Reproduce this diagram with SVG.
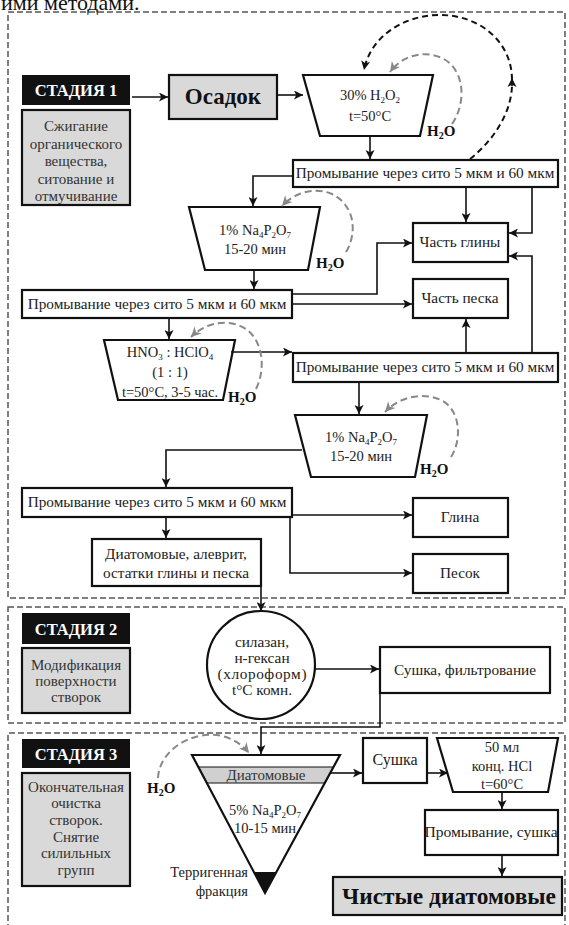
<svg xmlns="http://www.w3.org/2000/svg" width="569" height="925" viewBox="0 0 569 925">
<defs>
<marker id="ah" viewBox="0 0 10 10" refX="10" refY="5" markerWidth="10" markerHeight="9" markerUnits="userSpaceOnUse" orient="auto"><path d="M0,0 L10,5 L0,10 L2.5,5 z" fill="#111"/></marker>
<marker id="ahg" viewBox="0 0 10 10" refX="10" refY="5" markerWidth="11" markerHeight="10" markerUnits="userSpaceOnUse" orient="auto"><path d="M0,0 L10,5 L0,10 L3,5 z" fill="#888"/></marker>
</defs>
<style>
text{font-family:"Liberation Serif","DejaVu Serif",serif;fill:#222;}
.frame{fill:none;stroke:#555;stroke-width:1.5;stroke-dasharray:6 3;}
.box{fill:#fff;stroke:#111;stroke-width:2.2;}
.gbox{fill:#d9d9d9;stroke:#111;stroke-width:2.2;}
.blk{fill:#111;}
.lbl{font-size:16.5px;font-weight:bold;fill:#fff;text-anchor:middle;}
.st{font-size:15px;text-anchor:middle;fill:#333;}
.t{font-size:14.5px;text-anchor:middle;}
.w{font-size:15.3px;text-anchor:middle;}
.h2o{font-size:15px;font-weight:bold;fill:#111;}
.big{font-size:23px;font-weight:bold;text-anchor:middle;fill:#111;}
.c{fill:none;stroke:#111;stroke-width:1.6;marker-end:url(#ah);}
.cn{fill:none;stroke:#111;stroke-width:1.6;}
.dk{fill:none;stroke:#111;stroke-width:2;stroke-dasharray:6 4;}
.dg{fill:none;stroke:#888;stroke-width:2;stroke-dasharray:7 4;marker-end:url(#ahg);}
</style>
<text x="1" y="10" style="font-size:22px;fill:#111">ими методами.</text>
<g id="frames">
<rect class="frame" x="8" y="12" width="557" height="586"/>
<rect class="frame" x="8" y="607" width="557" height="116"/>
<path class="frame" d="M8,930 V733 H565 V930"/>
</g>
<g id="stage1">
<rect class="blk" x="22" y="75" width="108" height="30"/>
<text class="lbl" x="76" y="96">СТАДИЯ 1</text>
<rect class="gbox" x="22" y="110" width="108" height="95"/>
<text class="st" x="76" y="131">Сжигание</text>
<text class="st" x="76" y="149">органического</text>
<text class="st" x="76" y="166">вещества,</text>
<text class="st" x="76" y="184">ситование и</text>
<text class="st" x="76" y="201">отмучивание</text>
</g>
<g id="osadok">
<rect class="gbox" x="169" y="75" width="108" height="44"/>
<text class="big" x="223" y="104">Осадок</text>
</g>
<g id="trap1">
<path class="box" d="M303,75 H433 L420,136 H320 Z"/>
<text class="t" x="370" y="100">30% H<tspan font-size="9" dy="3">2</tspan><tspan dy="-3">O</tspan><tspan font-size="9" dy="3">2</tspan></text>
<text class="t" x="370" y="121">t=50°C</text>
<text class="h2o" x="427" y="136">H<tspan font-size="10" dy="3">2</tspan><tspan dy="-3">O</tspan></text>
</g>
<g id="wash1">
<rect class="box" x="293" y="160" width="265" height="27"/>
<text class="w" x="425" y="178">Промывание через сито 5 мкм и 60 мкм</text>
</g>
<g id="trap2">
<path class="box" d="M189,207 H320 L308,270 H205 Z"/>
<text class="t" x="255" y="235">1% Na<tspan font-size="9" dy="3">4</tspan><tspan dy="-3">P</tspan><tspan font-size="9" dy="3">2</tspan><tspan dy="-3">O</tspan><tspan font-size="9" dy="3">7</tspan></text>
<text class="t" x="255" y="254">15-20 мин</text>
<text class="h2o" x="316" y="268">H<tspan font-size="10" dy="3">2</tspan><tspan dy="-3">O</tspan></text>
</g>
<g id="clay1">
<rect class="box" x="413" y="223" width="95" height="39"/>
<text class="w" x="460" y="247">Часть глины</text>
</g>
<g id="sand1">
<rect class="box" x="413" y="279" width="95" height="39"/>
<text class="w" x="460" y="303">Часть песка</text>
</g>
<g id="wash2">
<rect class="box" x="22" y="290" width="270" height="28"/>
<text class="w" x="157" y="309">Промывание через сито 5 мкм и 60 мкм</text>
</g>
<g id="trap3">
<path class="box" d="M104,340 H235 L223,400 H118 Z"/>
<text class="t" x="170" y="357">HNO<tspan font-size="9" dy="3">3</tspan><tspan dy="-3"> : HClO</tspan><tspan font-size="9" dy="3">4</tspan></text>
<text class="t" x="170" y="377">(1 : 1)</text>
<text class="t" x="170" y="397">t=50°C, 3-5 час.</text>
<text class="h2o" x="228" y="402">H<tspan font-size="10" dy="3">2</tspan><tspan dy="-3">O</tspan></text>
</g>
<g id="wash3">
<rect class="box" x="293" y="353" width="265" height="29"/>
<text class="w" x="425" y="372">Промывание через сито 5 мкм и 60 мкм</text>
</g>
<g id="trap4">
<path class="box" d="M295,415 H427 L415,477 H311 Z"/>
<text class="t" x="361" y="442">1% Na<tspan font-size="9" dy="3">4</tspan><tspan dy="-3">P</tspan><tspan font-size="9" dy="3">2</tspan><tspan dy="-3">O</tspan><tspan font-size="9" dy="3">7</tspan></text>
<text class="t" x="361" y="461">15-20 мин</text>
<text class="h2o" x="420" y="474">H<tspan font-size="10" dy="3">2</tspan><tspan dy="-3">O</tspan></text>
</g>
<g id="wash4">
<rect class="box" x="22" y="488" width="270" height="29"/>
<text class="w" x="157" y="507">Промывание через сито 5 мкм и 60 мкм</text>
</g>
<g id="clay2">
<rect class="box" x="413" y="498" width="95" height="39"/>
<text class="w" x="460" y="522">Глина</text>
</g>
<g id="sand2">
<rect class="box" x="413" y="554" width="95" height="39"/>
<text class="w" x="460" y="578">Песок</text>
</g>
<g id="residue">
<rect class="box" x="92" y="539" width="169" height="47"/>
<text class="w" x="176" y="559">Диатомовые, алеврит,</text>
<text class="w" x="176" y="578">остатки глины и песка</text>
</g>
<g id="stage2">
<rect class="blk" x="22" y="613" width="108" height="31"/>
<text class="lbl" x="76" y="635">СТАДИЯ 2</text>
<rect class="gbox" x="22" y="648" width="108" height="65"/>
<text class="st" x="76" y="670">Модификация</text>
<text class="st" x="76" y="686">поверхности</text>
<text class="st" x="76" y="702">створок</text>
</g>
<g id="circle">
<circle cx="261" cy="665" r="54" fill="#fff" stroke="#111" stroke-width="2.2"/>
<text class="w" x="262" y="647">силазан,</text>
<text class="w" x="262" y="663">н-гексан</text>
<text class="w" x="262" y="679" textLength="89">(хлороформ)</text>
<text class="w" x="262" y="695">t°C комн.</text>
</g>
<g id="dryfilter">
<rect class="box" x="380" y="647" width="170" height="46"/>
<text class="w" x="465" y="675">Сушка, фильтрование</text>
</g>
<g id="stage3">
<rect class="blk" x="22" y="739" width="108" height="29"/>
<text class="lbl" x="76" y="760">СТАДИЯ 3</text>
<rect class="gbox" x="22" y="773" width="108" height="113"/>
<text class="st" x="76" y="792">Окончательная</text>
<text class="st" x="76" y="808">очистка</text>
<text class="st" x="76" y="825">створок.</text>
<text class="st" x="76" y="842">Снятие</text>
<text class="st" x="76" y="858">силильных</text>
<text class="st" x="76" y="875">групп</text>
</g>
<g id="funnel">
<path d="M192,755 H340 L265,893 Z" fill="#fff" stroke="none"/>
<path d="M198.5,767 H333.5 L324.8,783 H207.2 Z" fill="#d0d0d0" stroke="#111" stroke-width="1"/>
<path d="M253.6,872 H276.4 L265,893 Z" fill="#111"/>
<path d="M192,755 H340 L265,893 Z" fill="none" stroke="#111" stroke-width="2.2"/>
<text class="t" x="266" y="780" style="font-size:15px;fill:#333">Диатомовые</text>
<text class="t" x="265" y="815">5% Na<tspan font-size="9" dy="3">4</tspan><tspan dy="-3">P</tspan><tspan font-size="9" dy="3">2</tspan><tspan dy="-3">O</tspan><tspan font-size="9" dy="3">7</tspan></text>
<text class="t" x="265" y="833">10-15 мин</text>
<text x="248" y="877" style="font-size:14.5px;text-anchor:end">Терригенная</text>
<text x="248" y="896" style="font-size:14.5px;text-anchor:end">фракция</text>
<text class="h2o" x="147" y="793">H<tspan font-size="10" dy="3">2</tspan><tspan dy="-3">O</tspan></text>
</g>
<g id="dry">
<rect class="box" x="363" y="738" width="64" height="45"/>
<text class="w" x="395" y="765" style="font-size:16px">Сушка</text>
</g>
<g id="trap5">
<path class="box" d="M437,738 H558 L548,792 H453 Z"/>
<text class="t" x="502" y="752">50 мл</text>
<text class="t" x="502" y="771">конц. HCl</text>
<text class="t" x="502" y="789">t=60°C</text>
</g>
<g id="washdry">
<rect class="box" x="425" y="810" width="133" height="45"/>
<text class="w" x="491" y="837" style="font-size:15.6px">Промывание, сушка</text>
</g>
<g id="clean">
<rect class="gbox" x="333" y="877" width="229" height="38"/>
<text class="big" x="449" y="904" style="font-size:23.4px">Чистые диатомовые</text>
</g>
<g id="connectors">
<path class="c" d="M132,97 H168"/>
<path class="c" d="M277,95 H303"/>
<path class="c" d="M370,136 V159"/>
<path class="c" d="M293,176 H253 V206"/>
<path class="c" d="M466,187 V222"/>
<path class="c" d="M532,187 V233 H509"/>
<path class="c" d="M254,270 V289"/>
<path class="c" d="M292,294 H377 V243 H412"/>
<path class="c" d="M292,304 H412"/>
<path class="c" d="M169,318 V339"/>
<path class="c" d="M231,352 H292"/>
<path class="c" d="M466,353 V319"/>
<path class="c" d="M532,353 V256 H509"/>
<path class="c" d="M359,382 V414"/>
<path class="c" d="M302,450 H166 V487"/>
<path class="c" d="M166,517 V538"/>
<path class="c" d="M292,515 H412"/>
<path class="c" d="M290,517 V573 H412"/>
<path class="c" d="M261,586 V611"/>
<path class="c" d="M315,669 H379"/>
<path class="c" d="M380,693 V727 H261 V754"/>
<path class="c" d="M331,773 H362"/>
<path class="c" d="M427,773 H448"/>
<path class="c" d="M502,792 V809"/>
<path class="c" d="M502,855 V876"/>
<path class="dk" d="M470,159 C494,140 512,112 512,84"/>
<path class="cn" d="M512,86 L512,78" style="marker-end:url(#ah)"/>
<path class="dk" d="M512,80 C512,42 480,15 440,15 C402,15 370,38 364,70" style="marker-end:url(#ah)"/>
<path class="dg" d="M452,124 C466,104 466,70 442,58 C422,49 401,57 390,72"/>
<path class="dg" d="M346,252 C357,234 356,206 332,194 C313,186 293,194 282,206"/>
<path class="dg" d="M256,389 C266,369 263,341 246,329 C229,318 206,322 191,337"/>
<path class="dg" d="M451,457 C462,440 461,410 441,400 C421,391 398,398 385,412"/>
<path class="dg" d="M158,778 C159,756 180,738 205,735 C225,733 240,742 249,753"/>
</g>
</svg>
